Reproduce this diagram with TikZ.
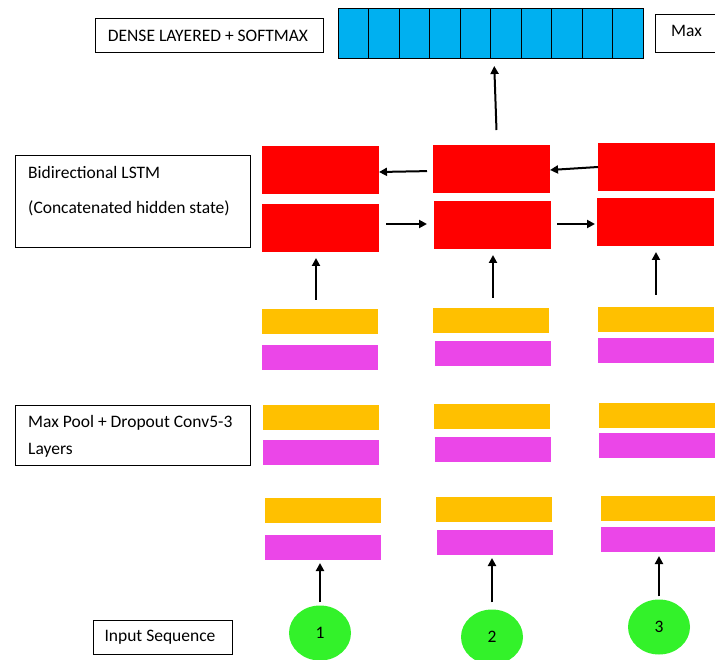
\documentclass[tikz,border=0pt]{standalone}
\usepackage{fontspec}
\setmainfont{Carlito}
\usetikzlibrary{arrows.meta,shapes.geometric}
\definecolor{cblue}{HTML}{00B0F0}
\definecolor{cred}{HTML}{FF0000}
\definecolor{corange}{HTML}{FFC000}
\definecolor{cmag}{HTML}{EB46E8}
\definecolor{cgreen}{HTML}{33F22A}
\tikzset{
  blk/.style={anchor=north west, inner sep=0pt, outer sep=0pt},
  txtbox/.style={blk, draw=black, line width=0.8pt, fill=white},
  cell/.style={blk, draw=black, line width=0.8pt, fill=cblue, minimum width=30.5pt, minimum height=50pt},
  redb/.style={blk, fill=cred, minimum width=117pt, minimum height=48pt},
  orb/.style={blk, fill=corange, minimum width=116pt, minimum height=25pt},
  magb/.style={blk, fill=cmag, minimum width=116pt, minimum height=25pt},
  inp/.style={ellipse, fill=cgreen, minimum width=62pt, minimum height=55pt, inner sep=0pt, font=\fontsize{17.5}{19}\selectfont},
  lbl/.style={anchor=north west, inner sep=0pt, align=left, font=\fontsize{17.5}{20}\selectfont},
  ctr/.style={inner sep=0pt, font=\fontsize{17.5}{20}\selectfont},
  arr/.style={line width=2pt, -{Triangle[length=8pt,width=8pt]}},
}
\begin{document}
\begin{tikzpicture}[x=1pt,y=-1pt]
\useasboundingbox (0,0) rectangle (715,660);
\clip (0,0) rectangle (715,660);
\fill[white] (0,0) rectangle (715,660);

% top row
\node[txtbox, minimum width=228pt, minimum height=34pt] (dense) at (95,18) {};
\node[ctr] (densetxt) at (208,35.5) {DENSE LAYERED + SOFTMAX};
\foreach \i in {0,...,9} {
  \node[cell] (c\i) at ({338+30.5*\i},8) {};
}
\node[txtbox, minimum width=80pt, minimum height=38pt] (maxb) at (655,14) {};
\node[ctr, anchor=west] (maxtxt) at (671,31) {Max};

% LSTM label box
\node[txtbox, minimum width=235pt, minimum height=92pt] (lstmbox) at (15,155) {};
\node[lbl] (lstmtxt) at (28,166) {Bidirectional LSTM\\[15pt](Concatenated hidden state)};

% Max pool label box
\node[txtbox, minimum width=235pt, minimum height=60pt] (poolbox) at (15,405) {};
\node[lbl] (pooltxt) at (28,415) {Max Pool + Dropout Conv5-3\\[7pt]Layers};

% Input label box
\node[txtbox, minimum width=139pt, minimum height=34pt] (inbox) at (93,620) {};
\node[ctr] (intxt) at (160,637) {Input Sequence};

% red LSTM blocks
\node[redb] (r1t) at (262,146) {};
\node[redb] (r1b) at (262,204) {};
\node[redb] (r2t) at (433,145) {};
\node[redb] (r2b) at (434,201) {};
\node[redb] (r3t) at (598,143) {};
\node[redb] (r3b) at (597,198) {};

% column 1 layers
\node[orb] (o1a) at (262,309) {};
\node[magb] (m1a) at (262,345) {};
\node[orb] (o1b) at (263,405) {};
\node[magb] (m1b) at (263,440) {};
\node[orb] (o1c) at (265,498) {};
\node[magb] (m1c) at (265,535) {};
% column 2 layers
\node[orb] (o2a) at (433,308) {};
\node[magb] (m2a) at (435,341) {};
\node[orb] (o2b) at (434,404) {};
\node[magb] (m2b) at (435,437) {};
\node[orb] (o2c) at (436,497) {};
\node[magb] (m2c) at (437,530) {};
% column 3 layers
\node[orb] (o3a) at (598,307) {};
\node[magb] (m3a) at (598,338) {};
\node[orb] (o3b) at (599,403) {};
\node[magb] (m3b) at (599,433) {};
\node[orb] (o3c) at (601,496) {};
\node[magb] (m3c) at (601,527) {};

% inputs
\node[inp] (i1) at (320,633) {1};
\node[inp] (i2) at (492,637) {2};
\node[inp] (i3) at (659,627) {3};

% arrows: inputs to layers
\draw[arr, shorten <=3pt, shorten >=3pt] (i1.north) -- (m1c.south -| i1.north);
\draw[arr, shorten <=7pt, shorten >=3pt] (i2.north) -- (m2c.south -| i2.north);
\draw[arr, shorten <=3pt, shorten >=4pt] (i3.north) -- (m3c.south -| i3.north);

% arrows: layers to LSTM
\draw[arr, shorten <=9pt, shorten >=6pt] ([xshift=-4pt]o1a.north) -- ([xshift=-4pt]o1a.north |- r1b.south);
\draw[arr, shorten <=10pt, shorten >=6pt] ([xshift=2pt]o2a.north) -- ([xshift=2pt]o2a.north |- r2b.south);
\draw[arr, shorten <=12pt, shorten >=6pt] ([xshift=0pt]o3a.north) -- ([xshift=0pt]o3a.north |- r3b.south);

% forward LSTM arrows
\draw[arr, shorten <=7pt, shorten >=7pt] ([yshift=4pt]r1b.east) -- ([yshift=1pt]r2b.west);
\draw[arr, shorten <=6pt, shorten >=2pt] ([yshift=1pt]r2b.east) -- ([yshift=-2pt]r3b.west);
% backward LSTM arrows
\draw[arr, shorten <=6pt, shorten >=0pt] ([yshift=-2pt]r2t.west) -- ([yshift=-2pt]r1t.east);
\draw[arr, shorten <=0pt, shorten >=0pt] ([yshift=0pt]r3t.west) -- ([yshift=-1pt]r2t.east);

% to dense layer
\draw[arr, shorten <=15pt, shorten >=8pt] ([xshift=5.5pt]r2t.north) -- ([xshift=3.5pt]c5.south west);
\end{tikzpicture}
\end{document}
